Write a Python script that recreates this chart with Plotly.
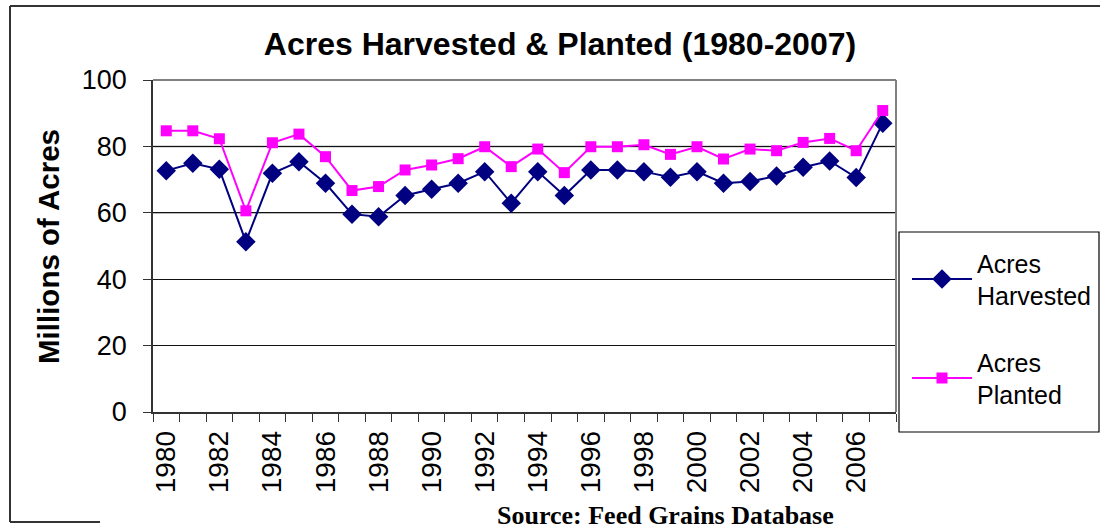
import plotly.graph_objects as go

years = [str(y) for y in range(1980, 2008)]
harvested = [72.7, 74.9, 73.1, 51.3, 71.9, 75.4, 68.9, 59.6, 58.8, 65.2, 67.1, 68.9, 72.4, 62.9,
             72.4, 65.2, 72.9, 72.9, 72.4, 70.7, 72.4, 68.9, 69.4, 71.1, 73.7, 75.6, 70.6, 87.0]
planted = [84.7, 84.7, 82.3, 60.6, 81.1, 83.7, 76.9, 66.7, 67.9, 72.9, 74.4, 76.3, 79.9, 73.9,
           79.2, 72.1, 79.9, 79.9, 80.5, 77.6, 79.9, 76.2, 79.2, 78.7, 81.2, 82.4, 78.7, 90.8]
tick_text = [y if (int(y) % 2 == 0 and int(y) <= 2006) else "" for y in years]
y_ticks = [0, 20, 40, 60, 80, 100]

W, H = 1101, 529
L, R, T, B = 153, 896, 80, 412  # plot area in pixels


def px(x):
    return (x - L) / (R - L)


def py(y):
    return (B - y) / (B - T)


fig = go.Figure()
fig.add_trace(go.Scatter(
    x=years, y=harvested, mode="lines+markers", name="Acres<br>Harvested",
    legendgroup="h",
    line=dict(color="#000080", width=2),
    marker=dict(symbol="diamond", size=15, color="#000080"),
))
fig.add_trace(go.Scatter(
    x=years, y=planted, mode="lines+markers", name="Acres<br>Planted",
    legendgroup="p",
    line=dict(color="#FF00FF", width=2),
    marker=dict(symbol="square", size=11, color="#FF00FF"),
))

frame = dict(color="#333333", width=2)
shapes = [
    # outer chart frame (left, top, partial bottom)
    dict(type="line", xref="paper", yref="paper", x0=px(10), x1=px(10), y0=py(6), y1=py(522),
         line=frame, layer="above"),
    dict(type="line", xref="paper", yref="paper", x0=px(10), x1=px(1100), y0=py(6), y1=py(6),
         line=frame, layer="above"),
    dict(type="line", xref="paper", yref="paper", x0=px(10), x1=px(100), y0=py(522), y1=py(522),
         line=frame, layer="above"),
    # gray grid lines at 60 and 80 and plot area border top & right
    dict(type="line", xref="paper", yref="y", x0=0, x1=1, y0=80, y1=80,
         line=dict(color="#707070", width=1.5), layer="below"),
    dict(type="line", xref="paper", yref="y", x0=0, x1=1, y0=60, y1=60,
         line=dict(color="#707070", width=1.5), layer="below"),
    dict(type="line", xref="paper", yref="paper", x0=0, x1=1, y0=1, y1=1,
         line=dict(color="#808080", width=2)),
    dict(type="line", xref="paper", yref="paper", x0=1, x1=1, y0=0, y1=1,
         line=dict(color="#808080", width=2)),
    # legend box
    dict(type="rect", xref="paper", yref="paper", x0=px(899), x1=px(1099), y0=py(232), y1=py(432),
         line=dict(color="black", width=1.2), fillcolor="rgba(0,0,0,0)"),
]

fig.update_layout(
    width=W, height=H,
    margin=dict(l=L, r=W - R, t=T, b=H - B, pad=0, autoexpand=False),
    paper_bgcolor="white", plot_bgcolor="white",
    font=dict(family="Liberation Sans, Arial", color="black"),
    title=dict(text="<b>Acres Harvested & Planted (1980-2007)</b>",
               font=dict(size=32, family="Liberation Sans, Arial", color="black"),
               x=560 / W, xanchor="center", y=1 - 44 / H, yanchor="middle"),
    xaxis=dict(
        type="category", range=[-0.5, 27.5],
        tickmode="array", tickvals=years, ticktext=tick_text,
        tickangle=-90, tickfont=dict(size=28), ticklabelstandoff=6,
        ticks="outside", ticklen=8, tickcolor="#333333", tickson="boundaries",
        showline=True, linecolor="#333333", linewidth=1.5,
        showgrid=False, zeroline=False, automargin=False,
    ),
    yaxis=dict(
        range=[0, 100], tickvals=y_ticks, tickfont=dict(size=27), ticklabelstandoff=11,
        ticks="outside", ticklen=8, tickcolor="#333333",
        showline=True, linecolor="#333333", linewidth=1.5,
        showgrid=True, gridcolor="#111111", gridwidth=1, zeroline=False, automargin=False,
    ),
    legend=dict(
        x=px(907), y=py(240), xanchor="left", yanchor="top",
        borderwidth=0, bgcolor="rgba(0,0,0,0)",
        font=dict(size=25, family="Liberation Sans, Arial"),
        itemwidth=60, tracegroupgap=31, traceorder="grouped",
    ),
    shapes=shapes,
    annotations=[
        dict(text="<b>Millions of Acres</b>", xref="paper", yref="paper",
             x=px(48), y=py(246), xanchor="center", yanchor="middle",
             textangle=-90, showarrow=False,
             font=dict(size=29.5, family="Liberation Sans, Arial")),
        dict(text="<b>Source: Feed Grains Database</b>", xref="paper", yref="paper",
             x=px(665), y=py(515), xanchor="center", yanchor="middle",
             showarrow=False, bgcolor="white", borderpad=0,
             font=dict(size=26, family="Liberation Serif, Times New Roman")),
    ],
)

fig.write_html(
    "out.html",
    config={"displayModeBar": False},
    post_script="document.body.style.margin='0';document.body.style.overflow='hidden';",
)
